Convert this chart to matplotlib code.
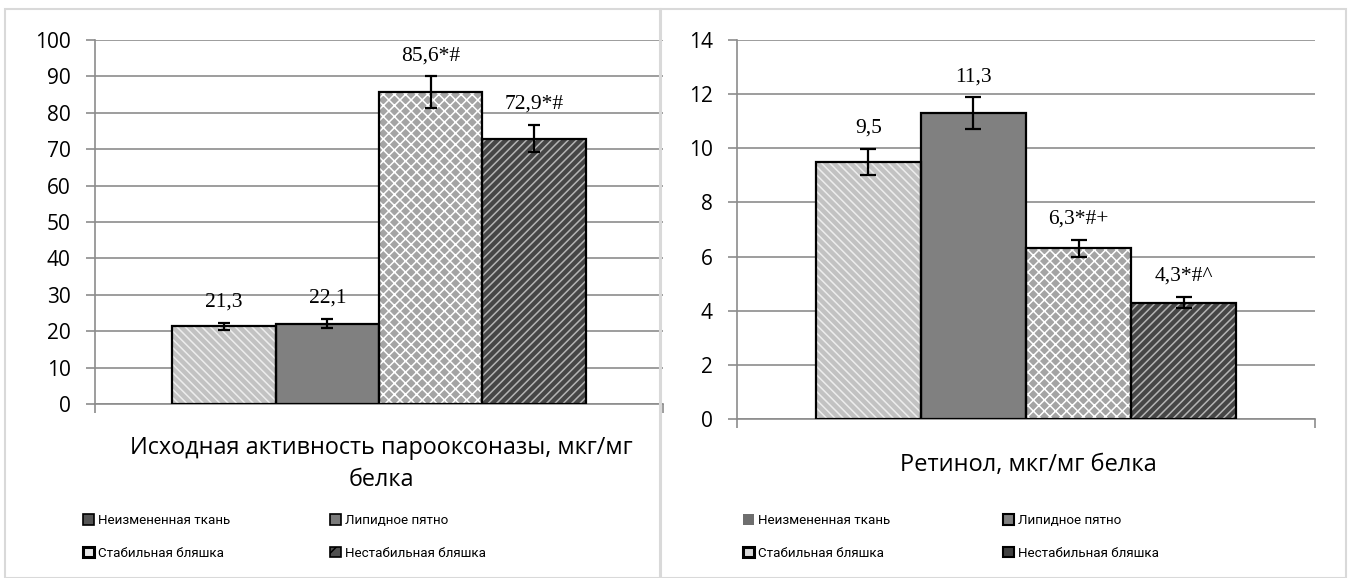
import matplotlib
matplotlib.use('Agg')
import matplotlib.pyplot as plt
from matplotlib.patches import Patch, Rectangle
import numpy as np

# data
groups = ['Неизмененная ткань', 'Липидное пятно', 'Стабильная бляшка', 'Нестабильная бляшка']
pon_values = [21.3, 22.1, 85.6, 72.9]
pon_errors = [1.0, 1.2, 4.4, 3.7]
pon_labels = ['21,3', '22,1', '85,6*#', '72,9*#']
ret_values = [9.5, 11.3, 6.3, 4.3]
ret_errors = [0.48, 0.58, 0.3, 0.2]
ret_labels = ['9,5', '11,3', '6,3*#+', '4,3*#^']

pon_title = 'Исходная активность парооксоназы, мкг/мг\nбелка'
ret_title = 'Ретинол, мкг/мг белка'

plt.rcParams['font.family'] = ['Open Sans', 'DejaVu Sans']
plt.rcParams['hatch.linewidth'] = 1.1

# bar look: face colour, hatch, hatch colour
faces = ['#c2c2c2', '#808080', '#a4a4a4', '#464646']
hatches = ['\\\\\\\\', None, 'xxx', '////']
hatch_cols = ['#ededed', '#808080', '#ffffff', '#b4b4b4']

grid_col = '#8c8c8c'
W = 1349
H = 578

fig = plt.figure(figsize=(W / 100, H / 100), dpi=100)

# panel borders
fig.patches.append(Rectangle((5 / W, 0), 655 / W, 1 - 9 / H, transform=fig.transFigure,
                             fill=False, edgecolor='#d9d9d9', lw=1.5))
fig.patches.append(Rectangle((661 / W, 0), 685 / W, 1 - 9 / H, transform=fig.transFigure,
                             fill=False, edgecolor='#d9d9d9', lw=1.5))


def draw_panel(rect, values, errors, labels, ymax, ystep, capsize, label_pad):
    ax = fig.add_axes(rect)
    w = 0.182
    x = (np.arange(len(values)) - 1.5) * w
    for i in range(len(values)):
        ax.bar(x[i], values[i], w, color=faces[i], hatch=hatches[i],
               edgecolor=hatch_cols[i], linewidth=0, zorder=2)
        ax.bar(x[i], values[i], w, fill=False, edgecolor='black', linewidth=1.6, zorder=3)
    ax.errorbar(x, values, yerr=errors, fmt='none', ecolor='black', elinewidth=1.6,
                capsize=capsize, capthick=1.6, zorder=4)
    for i in range(len(values)):
        ax.annotate(labels[i], (x[i], values[i] + errors[i]), xytext=(0, label_pad),
                    textcoords='offset points', ha='center', va='center',
                    fontsize=15.5, family=['Liberation Serif', 'DejaVu Serif'])
    ax.set_xlim(-0.5, 0.5)
    ax.set_ylim(0, ymax)
    ax.set_yticks(np.arange(0, ymax + ystep / 2, ystep))
    ax.set_xticks([-0.5, 0.5])
    ax.set_xticklabels([])
    ax.grid(axis='y', color=grid_col, linewidth=1.2)
    ax.set_axisbelow(True)
    for s in ['top', 'right']:
        ax.spines[s].set_visible(False)
    for s in ['left', 'bottom']:
        ax.spines[s].set_color(grid_col)
        ax.spines[s].set_linewidth(1.2)
    ax.tick_params(axis='y', length=6.5, width=1.2, color=grid_col, labelsize=15, pad=11)
    ax.tick_params(axis='x', length=6.5, width=1.2, color=grid_col)
    return ax


ax1 = draw_panel([95 / W, 1 - 404 / H, 568 / W, 364 / H], pon_values, pon_errors, pon_labels,
                 100, 10, 4, 15)
ax2 = draw_panel([737 / W, 1 - 419 / H, 578 / W, 379 / H], ret_values, ret_errors, ret_labels,
                 14, 2, 5.5, 15)

fig.text(381 / W, 1 - 464 / H, pon_title, ha='center', va='center', multialignment='center',
         fontsize=16.8, linespacing=1.42)
fig.text(1028 / W, 1 - 465 / H, ret_title, ha='center', va='center', fontsize=17)

# legends (two columns each, built as two small legends)
left_handles = [Patch(fc='#555555', ec='black', lw=1.2),
                Patch(fc='#7a7a7a', ec='black', lw=1.2),
                Patch(fc='#e8e8e8', ec='black', lw=2.2),
                Patch(fc='#505050', ec='black', lw=1.2, hatch='//')]
right_handles = [Patch(fc='#6e6e6e', ec='none'),
                 Patch(fc='#808080', ec='black', lw=1.5),
                 Patch(fc='#d8d8d8', ec='black', lw=2.2),
                 Patch(fc='#404040', ec='black', lw=1.5)]

legend_y = 1 - 537 / H
for ax, handles, cols in [(ax1, left_handles, [83, 330]), (ax2, right_handles, [743, 1003])]:
    for c, idx in enumerate([[0, 2], [1, 3]]):
        leg = fig.legend([handles[j] for j in idx], [groups[j] for j in idx],
                         loc='center left', bbox_to_anchor=(cols[c] / W, legend_y),
                         bbox_transform=fig.transFigure, frameon=False,
                         prop={'family': ['Roboto', 'Open Sans'], 'size': 9.6},
                         handlelength=0.85, handleheight=0.85, handletextpad=0.3,
                         labelspacing=1.45, borderpad=0, borderaxespad=0)

plt.savefig('out.png', dpi=100)
